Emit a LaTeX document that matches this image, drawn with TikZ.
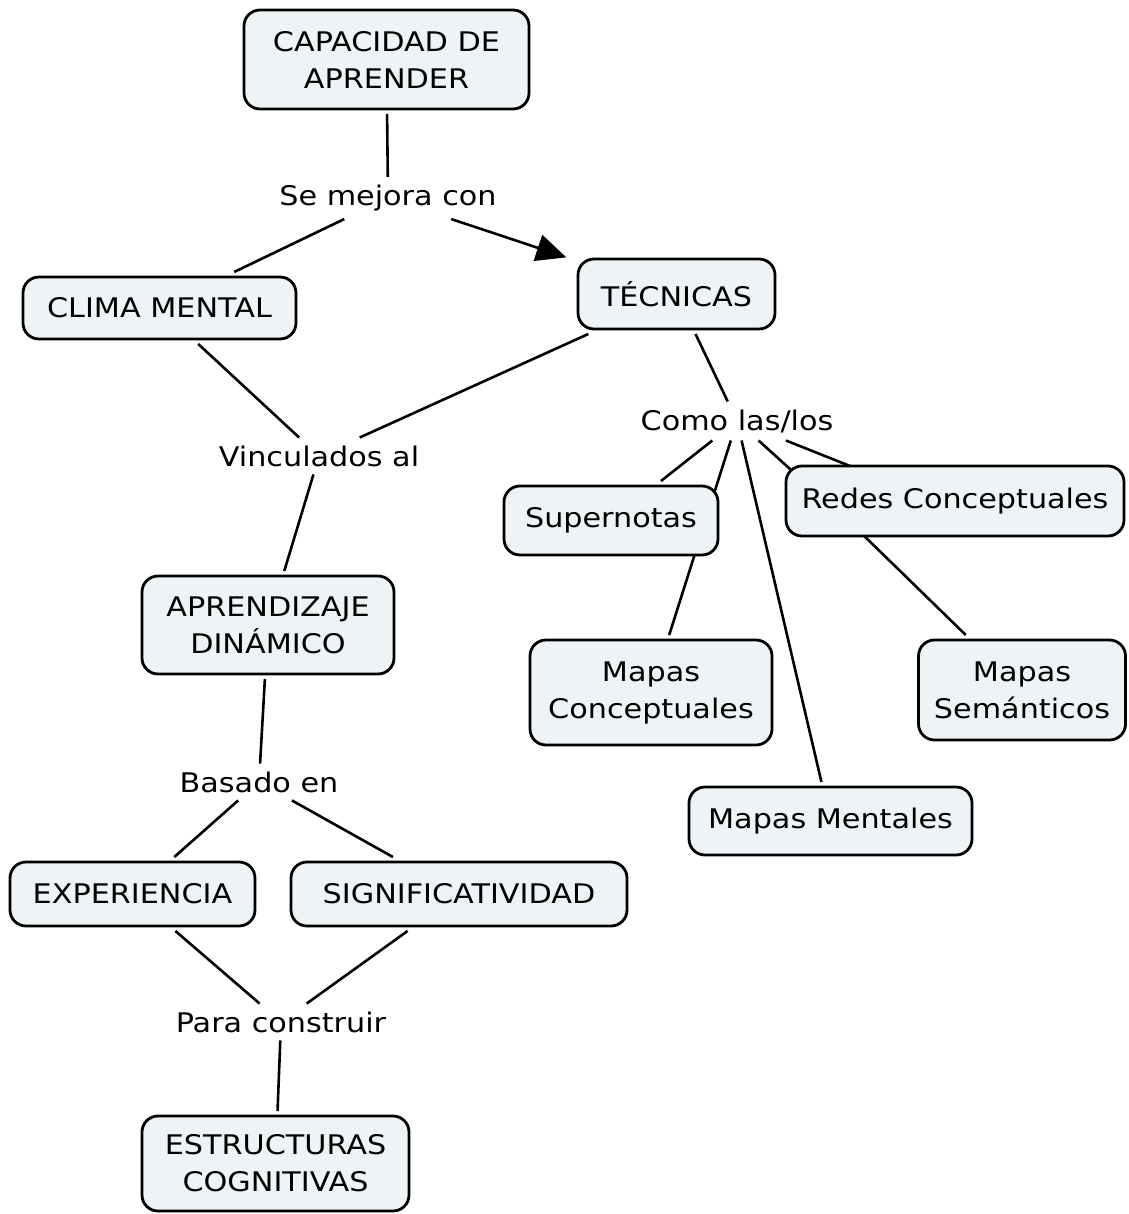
\documentclass[tikz,border=0pt]{standalone}
\usepackage{fontspec}
\setmainfont{DejaVu Sans}[FakeStretch=1.12]
\usetikzlibrary{backgrounds,calc,arrows.meta}
\definecolor{conceptfill}{RGB}{238,243,246}
\begin{document}
\begin{tikzpicture}[x=1pt,y=-1pt,
  concept/.style={draw=black, line width=2.8pt, fill=conceptfill,
    rounded corners=16pt, align=center, inner sep=0pt, outer sep=5pt,
    font=\fontsize{27}{37}\selectfont},
  phrase/.style={inner xsep=6pt, inner ysep=8pt, outer sep=0pt,
    font=\fontsize{27}{37}\selectfont},
  link/.style={line width=2.6pt, black}]
\useasboundingbox (0,0) rectangle (1128,1214);
\begin{scope}[on background layer]
  \fill[white] (0,0) rectangle (1128,1214);
\end{scope}

% concepts and linking phrases
\node[concept, minimum width=285pt, minimum height=99pt] (cap) at (386.5,59.5) {CAPACIDAD DE\\APRENDER};
\node[phrase] (mejora) at (388,198) {Se mejora con};
\node[concept, minimum width=273pt, minimum height=62pt] (clima) at (159.5,308) {CLIMA MENTAL};
\node[concept, minimum width=197pt, minimum height=70pt] (tec) at (676.5,294) {TÉCNICAS};
\node[phrase] (vinc) at (319,456) {Vinculados al};
\node[phrase] (como) at (737,421) {Como las/los};
\node[concept, minimum width=214pt, minimum height=69pt] (super) at (611,520.5) {Supernotas};
\node[concept, minimum width=338pt, minimum height=70pt] (redes) at (955,501) {Redes Conceptuales};
\node[concept, minimum width=252pt, minimum height=98pt] (apren) at (268,625) {APRENDIZAJE\\DINÁMICO};
\node[concept, minimum width=242pt, minimum height=105pt] (mapcon) at (651,692.5) {Mapas\\Conceptuales};
\node[concept, minimum width=207pt, minimum height=100pt] (sem) at (1022,690) {Mapas\\Semánticos};
\node[concept, minimum width=283pt, minimum height=68pt] (ment) at (830.5,821) {Mapas Mentales};
\node[phrase] (basado) at (259,782) {Basado en};
\node[concept, minimum width=245pt, minimum height=64pt] (exp) at (132.5,894) {EXPERIENCIA};
\node[concept, minimum width=336pt, minimum height=64pt] (sig) at (459,894) {SIGNIFICATIVIDAD};
\node[phrase] (para) at (281,1022) {Para construir};
\node[concept, minimum width=267pt, minimum height=95pt] (estr) at (275.5,1163.5) {ESTRUCTURAS\\COGNITIVAS};

% connectors run underneath the boxes
\begin{scope}[on background layer]
  \draw[link] (cap) -- (mejora);
  \draw[link] (mejora) -- (clima);
  \draw[link, shorten >=7pt, -{Triangle[length=30pt,width=27pt]}] (mejora) -- (tec);
  \draw[link] (clima) -- (vinc);
  \draw[link] (tec) -- (vinc);
  \draw[link] (vinc) -- (apren);
  \draw[link] (tec) -- (como);
  \draw[link] (como) -- (super);
  \draw[link] (como) -- (mapcon);
  \draw[link] (como) -- (ment);
  \draw[link] (como) -- ($(redes.north west)+(19,17)$);
  \draw[link] (como) -- ($(redes.north west)+(79,9)$)
              -- ($(redes.south west)+(75,-13)$) -- (sem);
  \draw[link] (apren) -- (basado);
  \draw[link] (basado) -- (exp);
  \draw[link] (basado) -- (sig);
  \draw[link] (exp) -- (para);
  \draw[link] (sig) -- (para);
  \draw[link] (para) -- (estr);
\end{scope}
\end{tikzpicture}
\end{document}
